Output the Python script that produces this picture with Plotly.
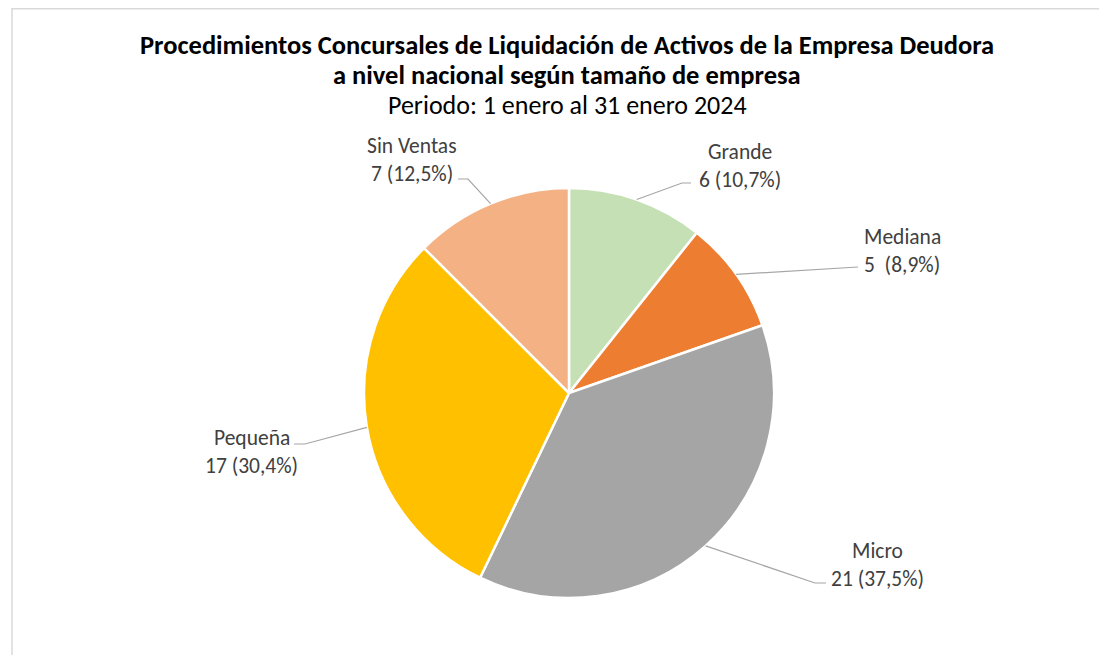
import math
import plotly.graph_objects as go

# ---- data ----
categories = ["Grande", "Mediana", "Micro", "Pequeña", "Sin Ventas"]
values = [6, 5, 21, 17, 7]
value_sep = [" ", "  ", " ", " ", " "]
colors = ["#C5E0B4", "#ED7D31", "#A5A5A5", "#FFC000", "#F4B183"]

title_lines = [
    "Procedimientos Concursales de Liquidación de Activos de la Empresa Deudora",
    "a nivel nacional según tamaño de empresa",
    "Periodo: 1 enero al 31 enero 2024",
]

# ---- layout (pixels, in window coordinates) ----
W, H = 1107, 655
OFF = 8  # default page body margin
CX, CY, R = 569, 393, 205
FONT = "Carlito, Calibri, Lato, sans-serif"

# per-label layout: elbow point, line end point, text center
label_layout = {
    "Grande": dict(elbow=(682, 183), end=(691, 183), text=(740, 166)),
    "Mediana": dict(elbow=(858, 267), end=(858, 267), text=(902, 251)),
    "Micro": dict(elbow=(815, 583), end=(826, 583), text=(878, 565)),
    "Pequeña": dict(elbow=(305, 444), end=(294, 444), text=(252, 452)),
    "Sin Ventas": dict(elbow=(468, 179), end=(458, 179), text=(412, 160)),
}


def px(x):
    return (x - OFF) / W


def py(y):
    return 1 - (y - OFF) / H


total = sum(values)

fig = go.Figure()
fig.add_trace(go.Pie(
    labels=categories,
    values=values,
    sort=False,
    direction="clockwise",
    rotation=0,
    marker=dict(colors=colors, line=dict(color="white", width=2.5)),
    textinfo="none",
    hoverinfo="label+value+percent",
    showlegend=False,
    domain=dict(x=[px(CX - R), px(CX + R)], y=[py(CY + R), py(CY - R)]),
))

shapes = []
annotations = []

# frame
shapes.append(dict(type="rect", xref="paper", yref="paper",
                   x0=px(12), x1=1.05, y0=-0.05, y1=py(8.8),
                   line=dict(color="#D9D9D9", width=1.5), fillcolor="rgba(0,0,0,0)"))

cum = 0
for cat, v, sep in zip(categories, values, value_sep):
    mid = (cum + v / 2) / total * 2 * math.pi
    cum += v
    ax = CX + R * math.sin(mid)
    ay = CY - R * math.cos(mid)
    lay = label_layout[cat]
    ex, ey = lay["elbow"]
    nx, ny = lay["end"]
    path = f"M {px(ax)},{py(ay)} L {px(ex)},{py(ey)} L {px(nx)},{py(ny)}"
    shapes.append(dict(type="path", xref="paper", yref="paper", path=path,
                       line=dict(color="#A6A6A6", width=1.2)))
    pct = f"{v / total * 100:.1f}".replace(".", ",")
    tx, ty = lay["text"]
    annotations.append(dict(text=cat, x=px(tx), y=py(ty - 14), xref="paper", yref="paper",
                            showarrow=False, xanchor="center", yanchor="middle",
                            font=dict(family=FONT, size=21.5, color="#404040")))
    annotations.append(dict(text=f"{v}{sep}({pct}%)", x=px(tx), y=py(ty + 14),
                            xref="paper", yref="paper",
                            showarrow=False, xanchor="center", yanchor="middle",
                            font=dict(family=FONT, size=21.5, color="#404040")))

# title
title_y = [45, 75, 105]
title_bold = [True, True, False]
title_size = [26.5, 26.5, 26]
for t, y, b, s in zip(title_lines, title_y, title_bold, title_size):
    annotations.append(dict(text=f"<b>{t}</b>" if b else t, x=px(567), y=py(y),
                            xref="paper", yref="paper", showarrow=False,
                            xanchor="center", yanchor="middle",
                            font=dict(family=FONT, size=s, color="#000000")))

fig.update_layout(
    width=W, height=H,
    margin=dict(l=0, r=0, t=0, b=0),
    paper_bgcolor="white", plot_bgcolor="white",
    shapes=shapes, annotations=annotations,
)

fig.write_html("out.html")
